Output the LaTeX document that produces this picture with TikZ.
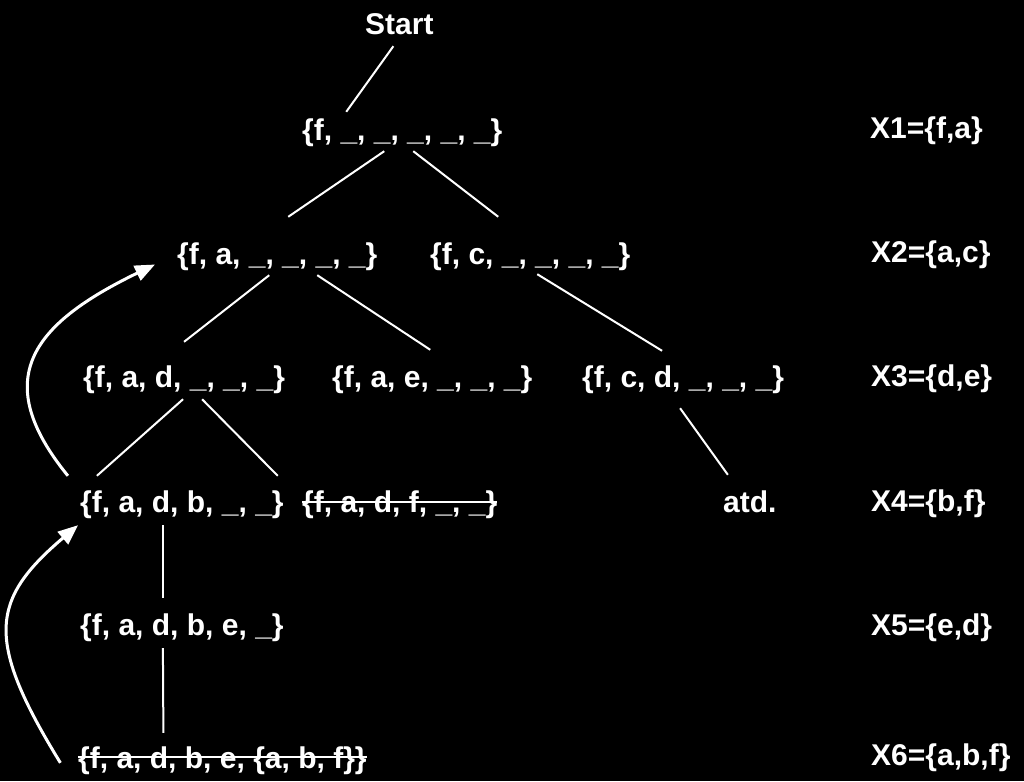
\documentclass[tikz,border=0pt]{standalone}
\usepackage{fontspec}
\setmainfont{Liberation Sans}
\usetikzlibrary{arrows.meta}
\begin{document}
\begin{tikzpicture}[x=1pt,y=-1pt,
  txt/.style={anchor=base west, inner sep=0pt, text=white, text height=22pt, text depth=7pt,
    font=\fontsize{30}{36}\selectfont\bfseries},
  edge/.style={draw=white, line width=2pt},
  back/.style={draw=white, line width=3pt, -{Triangle[length=20pt,width=16pt]}},
  strike/.style={draw=white, line width=2pt}]
\fill[black] (0,0) rectangle (1024,781);
\useasboundingbox (0,0) rectangle (1024,781);
% tree nodes
\node[txt] (start) at (365,35) {Start};
\node[txt] (r1) at (302,140) {\{f, \_, \_, \_, \_, \_\}};
\node[txt] (r2a) at (177,264) {\{f, a, \_, \_, \_, \_\}};
\node[txt] (r2b) at (430,264) {\{f, c, \_, \_, \_, \_\}};
\node[txt] (r3a) at (83,387) {\{f, a, d, \_, \_, \_\}};
\node[txt] (r3b) at (332,387) {\{f, a, e, \_, \_, \_\}};
\node[txt] (r3c) at (582,387) {\{f, c, d, \_, \_, \_\}};
\node[txt] (r4a) at (80,512) {\{f, a, d, b, \_, \_\}};
\node[txt] (r4b) at (302,512) {\{f, a, d, f, \_, \_\}};
\node[txt] (atd) at (723,512) {atd.};
\node[txt] (r5) at (80,635) {\{f, a, d, b, e, \_\}};
\node[txt] (r6) at (78,768) {\{f, a, d, b, e, \{a, b, f\}\}};
% right labels
\node[txt] (x1) at (870,138) {X1=\{f,a\}};
\node[txt] (x2) at (871,262) {X2=\{a,c\}};
\node[txt] (x3) at (871,386) {X3=\{d,e\}};
\node[txt] (x4) at (871,511) {X4=\{b,f\}};
\node[txt] (x5) at (871,635) {X5=\{e,d\}};
\node[txt] (x6) at (871,765) {X6=\{a,b,f\}};
% strike-throughs
\draw[strike] ([yshift=10pt]r4b.base west) -- ([yshift=10pt]r4b.base east);
\draw[strike] ([yshift=11pt]r6.base west) -- ([yshift=11pt]r6.base east);
% connectors
\draw[edge] ([xshift=-6pt,yshift=-4pt]start.south) -- ([xshift=-56pt,yshift=6pt]r1.north);
\draw[edge] ([xshift=-18pt,yshift=-4pt]r1.south) -- ([xshift=11pt,yshift=25pt]r2a.north);
\draw[edge] ([xshift=11pt,yshift=-4pt]r1.south) -- ([xshift=-32pt,yshift=25pt]r2b.north);
\draw[edge] ([xshift=-8pt,yshift=-4pt]r2a.south) -- ([xshift=0pt,yshift=23pt]r3a.north);
\draw[edge] ([xshift=40pt,yshift=-4pt]r2a.south) -- ([xshift=-2pt,yshift=15pt]r3b.north);
\draw[edge] ([xshift=7pt,yshift=-3pt]r2b.south) -- ([xshift=-21pt,yshift=14pt]r3c.north);
\draw[edge] ([xshift=-1pt,yshift=-5pt]r3a.south) -- ([xshift=-85pt,yshift=14pt]r4a.north);
\draw[edge] ([xshift=18pt,yshift=-5pt]r3a.south) -- ([xshift=-122pt,yshift=14pt]r4b.north);
\draw[edge] ([xshift=-3pt,yshift=-14pt]r3c.south) -- ([xshift=-22pt,yshift=15pt]atd.north);
\draw[edge] ([xshift=-19pt,yshift=-6pt]r4a.south) -- ([xshift=-19pt,yshift=15pt]r5.north);
\draw[edge] ([xshift=-19pt,yshift=-6pt]r5.south) -- ([xshift=-59pt,yshift=13pt]r6.north);
% back arrows
\draw[back] ([xshift=-114pt,yshift=14pt]r4a.north) .. controls (-10,380) and (30,325) .. ([xshift=-22pt,yshift=-8pt]r2a.west);
\draw[back] ([xshift=-162pt,yshift=-17pt]r6.north) .. controls (-15,640) and (-10,600) .. ([xshift=-2pt,yshift=-6pt]r4a.south west);
\end{tikzpicture}
\end{document}
